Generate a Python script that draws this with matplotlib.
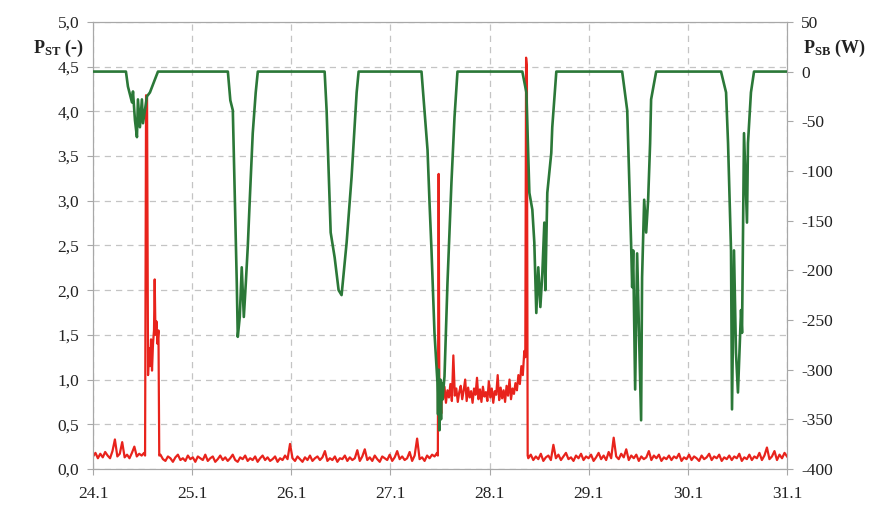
import numpy as np
import matplotlib.pyplot as plt
from matplotlib.ticker import FuncFormatter

# P_ST (red, left axis) - pieces of the record
red_a_vals = [0.14, 0.18, 0.12, 0.17, 0.13, 0.19, 0.15, 0.12, 0.20, 0.33, 0.14,
              0.17, 0.30, 0.13, 0.16, 0.12, 0.18, 0.25, 0.14, 0.17, 0.15, 0.18]
red_peak1_t = [24.525, 24.535, 24.545, 24.555, 24.565, 24.575, 24.585, 24.595,
               24.605, 24.615, 24.622, 24.630, 24.640, 24.650, 24.660, 24.668]
red_peak1_v = [0.15, 4.18, 4.15, 1.05, 1.35, 1.15, 1.45, 1.10,
               1.40, 1.55, 2.12, 1.50, 1.65, 1.40, 1.55, 0.15]
red_b_vals = [0.16, 0.11, 0.09, 0.14, 0.12, 0.08, 0.13, 0.16, 0.10, 0.12, 0.09, 0.15, 0.11, 0.13,
              0.08, 0.14, 0.12, 0.10, 0.16, 0.09, 0.12, 0.14, 0.08, 0.11, 0.15, 0.10, 0.13, 0.09,
              0.12, 0.16, 0.10, 0.08, 0.13, 0.11, 0.15, 0.09, 0.12, 0.10, 0.14, 0.08, 0.12, 0.15,
              0.10, 0.13, 0.09, 0.11, 0.14, 0.08, 0.12, 0.10, 0.15, 0.11, 0.28, 0.12, 0.09, 0.14,
              0.11, 0.08, 0.13, 0.10, 0.15, 0.09, 0.12, 0.14, 0.10, 0.13, 0.20, 0.09, 0.12, 0.10,
              0.14, 0.08, 0.12, 0.11, 0.15, 0.09, 0.13, 0.10, 0.12, 0.21, 0.09, 0.14, 0.22, 0.10,
              0.13, 0.09, 0.15, 0.11, 0.08, 0.14, 0.12, 0.10, 0.16, 0.09, 0.13, 0.20, 0.11, 0.14,
              0.10, 0.12, 0.19, 0.09, 0.15, 0.34, 0.11, 0.13, 0.09, 0.15, 0.12, 0.16, 0.14, 0.18]
red_peak2_t = [27.478, 27.486, 27.494, 27.503, 27.512, 27.521]
red_peak2_v = [0.15, 3.30, 0.55, 0.85, 0.62, 0.90]
red_c_vals = [0.78, 0.92, 0.74, 0.88, 0.80, 0.95, 0.76, 1.27, 0.82, 0.90, 0.75, 0.86, 0.93, 0.78,
              0.88, 1.00, 0.76, 0.91, 0.80, 0.87, 0.74, 0.90, 0.83, 1.02, 0.78, 0.89, 0.75, 0.92,
              0.81, 0.86, 0.76, 0.98, 0.80, 0.90, 0.74, 0.87, 0.83, 1.05, 0.77, 0.91, 0.79, 0.88,
              0.75, 0.93, 0.82, 1.00, 0.78, 0.90, 0.84, 0.96, 0.88, 1.05, 0.95, 1.15, 1.05, 1.32]
red_peak3_t = [28.360, 28.368, 28.376, 28.384]
red_peak3_v = [1.25, 4.60, 4.50, 0.15]
red_d_vals = [0.12, 0.16, 0.10, 0.14, 0.11, 0.17, 0.09, 0.13, 0.15, 0.10, 0.27, 0.12, 0.16,
              0.10, 0.14, 0.18, 0.11, 0.13, 0.09, 0.15, 0.12, 0.17, 0.10, 0.14, 0.12, 0.16,
              0.09, 0.13, 0.18, 0.11, 0.15, 0.10, 0.19, 0.12, 0.35, 0.14, 0.11, 0.17, 0.13,
              0.22, 0.10, 0.15, 0.12, 0.16, 0.09, 0.14, 0.11, 0.13, 0.20, 0.10, 0.15, 0.12,
              0.16, 0.09, 0.13, 0.11, 0.15, 0.10, 0.14, 0.12, 0.17, 0.09, 0.13, 0.11, 0.16,
              0.10, 0.14, 0.12, 0.09, 0.15, 0.11, 0.13, 0.17, 0.10, 0.14, 0.12, 0.16, 0.09,
              0.13, 0.11, 0.15, 0.10, 0.14, 0.12, 0.17, 0.09, 0.13, 0.11, 0.16, 0.10, 0.14,
              0.12, 0.18, 0.10, 0.15, 0.24, 0.11, 0.14, 0.20, 0.10, 0.16, 0.12, 0.18, 0.14]

# P_SB (green, right axis), one row per dip
green_t = [24.000, 24.332, 24.352, 24.393, 24.403, 24.423, 24.443, 24.453, 24.473, 24.493, 24.504, 24.544, 24.574, 24.624, 24.655,
           25.360, 25.385, 25.410, 25.450, 25.460, 25.480, 25.500, 25.521, 25.541, 25.561, 25.581, 25.611, 25.641, 25.662,
           26.336, 26.356, 26.397, 26.437, 26.477, 26.507, 26.558, 26.608, 26.659, 26.679,
           27.313, 27.374, 27.394, 27.414, 27.444, 27.474, 27.480, 27.486, 27.494, 27.503, 27.510, 27.515, 27.525, 27.545, 27.575, 27.615, 27.646, 27.676,
           28.330, 28.371, 28.401, 28.431, 28.451, 28.471, 28.491, 28.512, 28.532, 28.552, 28.562, 28.582, 28.622, 28.632, 28.673,
           29.337, 29.388, 29.428, 29.438, 29.448, 29.468, 29.488, 29.528, 29.538, 29.559, 29.579, 29.599, 29.619, 29.629, 29.680,
           30.334, 30.385, 30.405, 30.435, 30.445, 30.465, 30.485, 30.505, 30.536, 30.546, 30.566, 30.596, 30.606, 30.636, 30.667,
           31.000]
green_w = [0, 0, -15, -31, -20, -49, -66, -28, -56, -28, -52, -25, -21, -8, 0,
           0, -29, -39, -213, -267, -247, -197, -247, -213, -176, -129, -62, -21, 0,
           0, -39, -162, -187, -220, -225, -172, -106, -21, 0,
           0, -79, -132, -180, -263, -313, -345, -300, -361, -310, -350, -313, -330, -307, -213, -112, -46, 0,
           0, -21, -122, -139, -172, -243, -197, -237, -203, -152, -220, -122, -82, -56, 0,
           0, -39, -176, -217, -180, -320, -183, -351, -207, -129, -162, -129, -72, -28, 0,
           0, -21, -72, -180, -340, -180, -283, -323, -240, -263, -62, -152, -72, -21, 0,
           0]

day_ticks = [24, 25, 26, 27, 28, 29, 30, 31]
day_labels = ['24.1', '25.1', '26.1', '27.1', '28.1', '29.1', '30.1', '31.1']

red_t = np.concatenate([np.linspace(24.0, 24.515, len(red_a_vals)), red_peak1_t,
                        np.linspace(24.68, 27.47, len(red_b_vals)), red_peak2_t,
                        np.linspace(27.53, 28.35, len(red_c_vals)), red_peak3_t,
                        np.linspace(28.39, 31.0, len(red_d_vals))])
red_v = np.concatenate([red_a_vals, red_peak1_v, red_b_vals, red_peak2_v,
                        red_c_vals, red_peak3_v, red_d_vals])

plt.rcParams['font.family'] = 'Liberation Serif'
plt.rcParams['mathtext.fontset'] = 'custom'
plt.rcParams['mathtext.rm'] = 'Liberation Serif'
plt.rcParams['mathtext.bf'] = 'Liberation Serif:bold'
plt.rcParams['axes.unicode_minus'] = False

grey = '#a8a8a8'
fig = plt.figure(figsize=(8.71, 5.07), dpi=100)
ax = fig.add_axes([0.1068, 0.075, 0.7968, 0.8818])
ax.plot(red_t, red_v, color='#e8231c', lw=1.6, zorder=2)
ax.set_xlim(24, 31)
ax.set_ylim(0, 5)
ax.set_yticks(np.arange(0, 5.01, 0.5))
ax.yaxis.set_major_formatter(FuncFormatter(lambda v, p: f'{v:.1f}'.replace('.', ',')))
ax.set_xticks(day_ticks)
ax.set_xticklabels(day_labels)
ax.grid(True, color='#c4c4c4', linestyle=(0, (5, 4)), lw=0.9)
ax.tick_params(axis='both', colors=grey, labelcolor='#222222', labelsize=12.5, length=4)
ax.tick_params(axis='x', pad=8)
ax.tick_params(axis='y', pad=6)
for s in ax.spines.values():
    s.set_color(grey)

ax2 = ax.twinx()
ax2.plot(green_t, green_w, color='#2b7838', lw=1.9, zorder=3)
ax2.set_ylim(-400, 50)
ax2.set_yticks(np.arange(-400, 51, 50))
ax2.tick_params(axis='y', colors=grey, labelcolor='#222222', labelsize=12.5, length=4, pad=6)
for s in ax2.spines.values():
    s.set_color(grey)

fig.text(0.038, 0.895, r'$\mathbf{P_{ST}}$ (-)', fontsize=13, fontweight='bold', color='#222222')
fig.text(0.922, 0.895, r'$\mathbf{P_{SB}}$ (W)', fontsize=13, fontweight='bold', color='#222222')

fig.savefig('out.png', dpi=100)
